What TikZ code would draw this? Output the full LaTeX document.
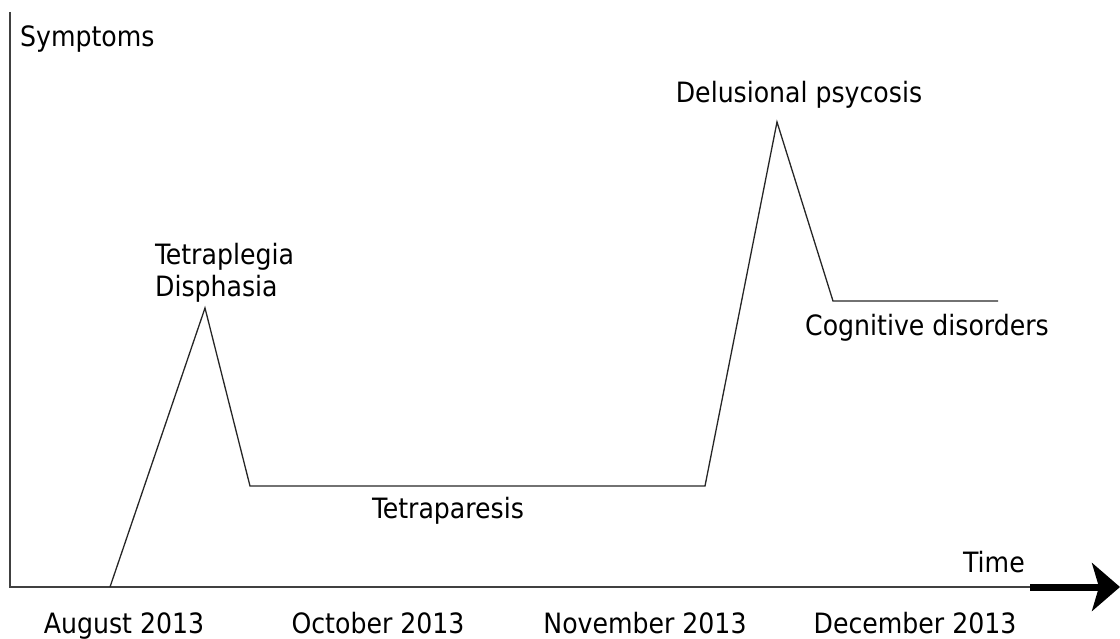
\documentclass[tikz,border=0pt]{standalone}
\usepackage{fontspec}
\setmainfont{DejaVu Sans Condensed}
\usetikzlibrary{arrows.meta}
\tikzset{
  lbl/.style={inner sep=0pt, font=\fontsize{28}{30}\selectfont},
  curve/.style={black!85, line width=1.3pt, line join=miter},
  axis/.style={black!75, line width=1.4pt}
}
\begin{document}
\begin{tikzpicture}[x=1pt, y=-1pt]
\useasboundingbox (0,0) rectangle (1120,639);
% axes
\coordinate (ytop) at (10,12);
\coordinate (origin) at (10,587);
\coordinate (xmid) at (1030,587);
\coordinate (xend) at (1120,587);
\draw[axis] (ytop) -- (origin) -- (xmid);
\draw[line width=7pt, -{Stealth[length=28pt, width=48pt, inset=7pt]}] (xmid) -- (xend);
% curve points
\coordinate (p0) at (110,587);
\coordinate (p1) at (205,308);
\coordinate (p2) at (250,486);
\coordinate (p3) at (705,486);
\coordinate (p4) at (777,122);
\coordinate (p5) at (833,301);
\coordinate (p6) at (998,301);
\draw[curve] (p0) -- (p1) -- (p2) -- (p3) -- (p4) -- (p5) -- (p6);
% labels
\node[lbl, anchor=base west] at (20,47) (symp) {Symptoms};
\node[lbl, anchor=base west] at (963,572) (time) {Time};
\node[lbl, anchor=base] at (124,633) (aug) {August 2013};
\node[lbl, anchor=base] at (378,633) (oct) {October 2013};
\node[lbl, anchor=base] at (645,633) (nov) {November 2013};
\node[lbl, anchor=base] at (915,633) (dec) {December 2013};
\node[lbl, anchor=base west] at (155,265) (tetraple) {Tetraplegia};
\node[lbl, anchor=base west] at (155,297) (disph) {Disphasia};
\node[lbl, anchor=base] at (448,518) (tetrapa) {Tetraparesis};
\node[lbl, anchor=base] at (799,103) (delus) {Delusional psycosis};
\node[lbl, anchor=base] at (927,335) (cogn) {Cognitive disorders};
\end{tikzpicture}
\end{document}
